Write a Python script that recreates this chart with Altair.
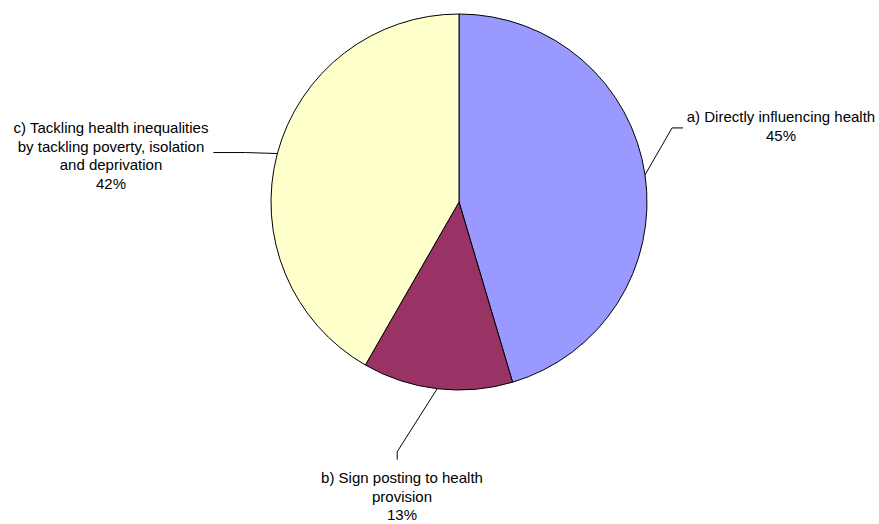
import math
import altair as alt
import pandas as pd

# ---- data ----
categories = ["a) Directly influencing health",
              "b) Sign posting to health provision",
              "c) Tackling health inequalities by tackling poverty, isolation and deprivation"]
label_lines = [["a) Directly influencing health"],
               ["b) Sign posting to health", "provision"],
               ["c) Tackling health inequalities", "by tackling poverty, isolation", "and deprivation"]]
values = [45.4, 12.9, 41.7]
colors = ["#9999FF", "#993366", "#FFFFCC"]

# ---- layout (pixels) ----
W, H = 879, 524
CX, CY, R = 459, 202, 188
# leader-line offsets from the slice's edge point: elbow, end
leader = [((27, -47), (38, -47)),
          ((-40, 63), (-40, 71)),
          ((-32, -1), (-64, -1))]
text_pos = [(781, 122), (402, 483), (111, 133)]  # centre x, first-line baseline

total = sum(values)
pie_df = pd.DataFrame({"cat": categories, "value": values, "order": list(range(len(values)))})

line_rows, text_rows = [], []
cum = 0
for i, v in enumerate(values):
    mid = 2 * math.pi * (cum + v / 2) / total
    cum += v
    sx, sy = CX + R * math.sin(mid), CY - R * math.cos(mid)
    pts = [(sx, sy)] + [(sx + dx, sy + dy) for dx, dy in leader[i]]
    for k, (px, py) in enumerate(pts):
        line_rows.append({"cat": categories[i], "k": k, "x": px, "y": py})
    pct = f"{round(100 * v / total)}%"
    text_rows.append({"cat": categories[i], "x": text_pos[i][0], "y": text_pos[i][1],
                      "txt": label_lines[i] + [pct]})
line_df = pd.DataFrame(line_rows)
text_df = pd.DataFrame(text_rows)

xs = alt.Scale(domain=[0, W], range=[0, W])
ys = alt.Scale(domain=[0, H], range=[0, H])

pie = alt.Chart(pie_df).mark_arc(outerRadius=R, stroke="black", strokeWidth=1).encode(
    theta=alt.Theta("value:Q", stack=True),
    order=alt.Order("order:Q"),
    color=alt.Color("cat:N", scale=alt.Scale(domain=categories, range=colors), legend=None),
    x=alt.value(CX), y=alt.value(CY),
)

lines = alt.Chart(line_df).mark_line(color="black", strokeWidth=1).encode(
    x=alt.X("x:Q", scale=xs, axis=None),
    y=alt.Y("y:Q", scale=ys, axis=None),
    detail="cat:N",
    order="k:Q",
)

texts = alt.Chart(text_df).mark_text(
    font="Liberation Sans", fontSize=15, align="center", baseline="alphabetic",
    lineHeight=18.7, color="black"
).encode(
    x=alt.X("x:Q", scale=xs, axis=None),
    y=alt.Y("y:Q", scale=ys, axis=None),
    text="txt",
)

chart = alt.layer(pie, lines, texts).resolve_scale(color="independent").properties(
    width=W, height=H, padding=0, autosize=alt.AutoSizeParams(type="none"),
    background="white",
).configure_view(stroke=None)

chart.save("out.html", embed_options={"renderer": "svg", "actions": False})
